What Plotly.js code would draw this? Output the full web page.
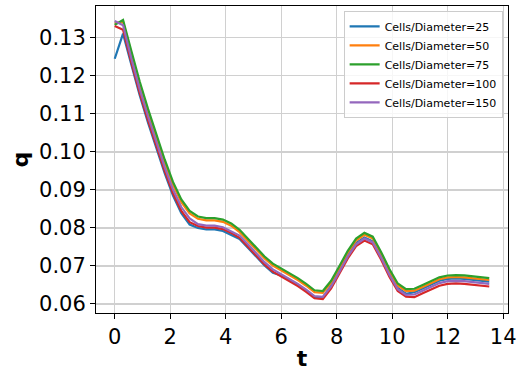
<!DOCTYPE html>
<html>
<head>
<meta charset="utf-8">
<script src="https://cdn.plot.ly/plotly-3.0.1.min.js"></script>
<style>
  html, body { margin: 0; padding: 0; background: #ffffff; }
  #chart { width: 529px; height: 372px; }
</style>
</head>
<body>
<div id="chart"></div>
<script>
// Sample times
const t = [0.0, 0.3, 0.6, 0.9, 1.2, 1.5, 1.8, 2.1, 2.4, 2.7,
           3.0, 3.3, 3.6, 3.9, 4.2, 4.5, 4.8, 5.1, 5.4, 5.7,
           6.0, 6.3, 6.6, 6.9, 7.2, 7.5, 7.8, 8.1, 8.4, 8.7,
           9.0, 9.3, 9.6, 9.9, 10.2, 10.5, 10.8, 11.1, 11.4, 11.7,
           12.0, 12.3, 12.6, 12.9, 13.2, 13.5];

// q(t) for each grid resolution
const q25 = [0.1245, 0.1311, 0.1229, 0.1149, 0.1077, 0.1009, 0.0944, 0.0885, 0.0839, 0.0809,
             0.0800, 0.0796, 0.0796, 0.0792, 0.0782, 0.0771, 0.0748, 0.0724, 0.0701, 0.0682,
             0.0675, 0.0664, 0.0650, 0.0635, 0.0618, 0.0616, 0.0649, 0.0688, 0.0728, 0.0760,
             0.0775, 0.0765, 0.0725, 0.0680, 0.0642, 0.0627, 0.0631, 0.0641, 0.0652, 0.0661,
             0.0666, 0.0667, 0.0666, 0.0664, 0.0662, 0.0659];
const q50 = [0.1338, 0.1342, 0.1258, 0.1178, 0.1106, 0.1038, 0.0973, 0.0914, 0.0868, 0.0838,
             0.0824, 0.0820, 0.0820, 0.0816, 0.0806, 0.0789, 0.0766, 0.0743, 0.0720, 0.0701,
             0.0688, 0.0677, 0.0663, 0.0648, 0.0631, 0.0629, 0.0656, 0.0695, 0.0735, 0.0767,
             0.0782, 0.0772, 0.0732, 0.0687, 0.0649, 0.0634, 0.0635, 0.0645, 0.0656, 0.0665,
             0.0670, 0.0671, 0.0670, 0.0668, 0.0666, 0.0663];
const q75 = [0.1334, 0.1347, 0.1265, 0.1185, 0.1113, 0.1045, 0.0980, 0.0921, 0.0875, 0.0845,
             0.0830, 0.0826, 0.0826, 0.0822, 0.0812, 0.0795, 0.0772, 0.0748, 0.0725, 0.0706,
             0.0693, 0.0682, 0.0668, 0.0653, 0.0636, 0.0634, 0.0661, 0.0700, 0.0740, 0.0772,
             0.0787, 0.0777, 0.0737, 0.0692, 0.0654, 0.0639, 0.0640, 0.0650, 0.0661, 0.0670,
             0.0675, 0.0676, 0.0675, 0.0673, 0.0671, 0.0668];
const q100 = [0.1331, 0.1321, 0.1235, 0.1155, 0.1083, 0.1015, 0.0950, 0.0891, 0.0845, 0.0815,
              0.0805, 0.0801, 0.0801, 0.0797, 0.0787, 0.0774, 0.0751, 0.0727, 0.0704, 0.0685,
              0.0672, 0.0661, 0.0647, 0.0632, 0.0615, 0.0613, 0.0641, 0.0680, 0.0720, 0.0752,
              0.0767, 0.0757, 0.0717, 0.0672, 0.0634, 0.0619, 0.0618, 0.0628, 0.0639, 0.0648,
              0.0653, 0.0654, 0.0653, 0.0651, 0.0649, 0.0646];
const q150 = [0.1344, 0.1333, 0.1245, 0.1165, 0.1093, 0.1025, 0.0960, 0.0901, 0.0855, 0.0825,
              0.0810, 0.0806, 0.0806, 0.0802, 0.0792, 0.0780, 0.0757, 0.0733, 0.0710, 0.0691,
              0.0678, 0.0667, 0.0653, 0.0638, 0.0621, 0.0619, 0.0646, 0.0685, 0.0725, 0.0757,
              0.0772, 0.0762, 0.0722, 0.0677, 0.0639, 0.0624, 0.0625, 0.0635, 0.0646, 0.0655,
              0.0660, 0.0661, 0.0660, 0.0658, 0.0656, 0.0653];

const seriesNames = ['Cells/Diameter=25', 'Cells/Diameter=50', 'Cells/Diameter=75',
                     'Cells/Diameter=100', 'Cells/Diameter=150'];
const seriesValues = [q25, q50, q75, q100, q150];
const seriesColors = ['#1f77b4', '#ff7f0e', '#2ca02c', '#d62728', '#9467bd'];

const traces = seriesNames.map((name, i) => ({
  type: 'scatter',
  mode: 'lines',
  name: name,
  x: t,
  y: seriesValues[i],
  line: { color: seriesColors[i], width: 2.2 }
}));

const font = 'DejaVu Sans, sans-serif';
const axisCommon = {
  showline: true,
  mirror: true,
  linecolor: '#000000',
  linewidth: 1,
  ticks: 'outside',
  ticklen: 5,
  tickwidth: 1,
  tickcolor: '#000000',
  showgrid: true,
  gridcolor: '#d0d0d0',
  gridwidth: 1.2,
  zeroline: false,
  tickfont: { family: font, size: 21, color: '#000000' }
};

const layout = {
  width: 529,
  height: 372,
  margin: { l: 96, r: 21, t: 6, b: 59 },
  paper_bgcolor: '#ffffff',
  plot_bgcolor: '#ffffff',
  showlegend: true,
  xaxis: Object.assign({}, axisCommon, {
    range: [-0.675, 14.175],
    tick0: 0,
    dtick: 2,
    title: { text: '<b>t</b>', font: { family: font, size: 22, color: '#000000' }, standoff: 2 }
  }),
  yaxis: Object.assign({}, axisCommon, {
    range: [0.05763, 0.13837],
    tick0: 0.06,
    dtick: 0.01,
    tickformat: '.2f',
    title: { text: '<b>q</b>', font: { family: font, size: 22, color: '#000000' }, standoff: 4 }
  }),
  legend: {
    x: 0.987,
    y: 0.984,
    xanchor: 'right',
    yanchor: 'top',
    bgcolor: 'rgba(255,255,255,0.8)',
    bordercolor: '#cccccc',
    borderwidth: 1,
    font: { family: font, size: 11, color: '#000000' },
    tracegroupgap: 0
  }
};

Plotly.newPlot('chart', traces, layout, { displayModeBar: false, staticPlot: true });
</script>
</body>
</html>
